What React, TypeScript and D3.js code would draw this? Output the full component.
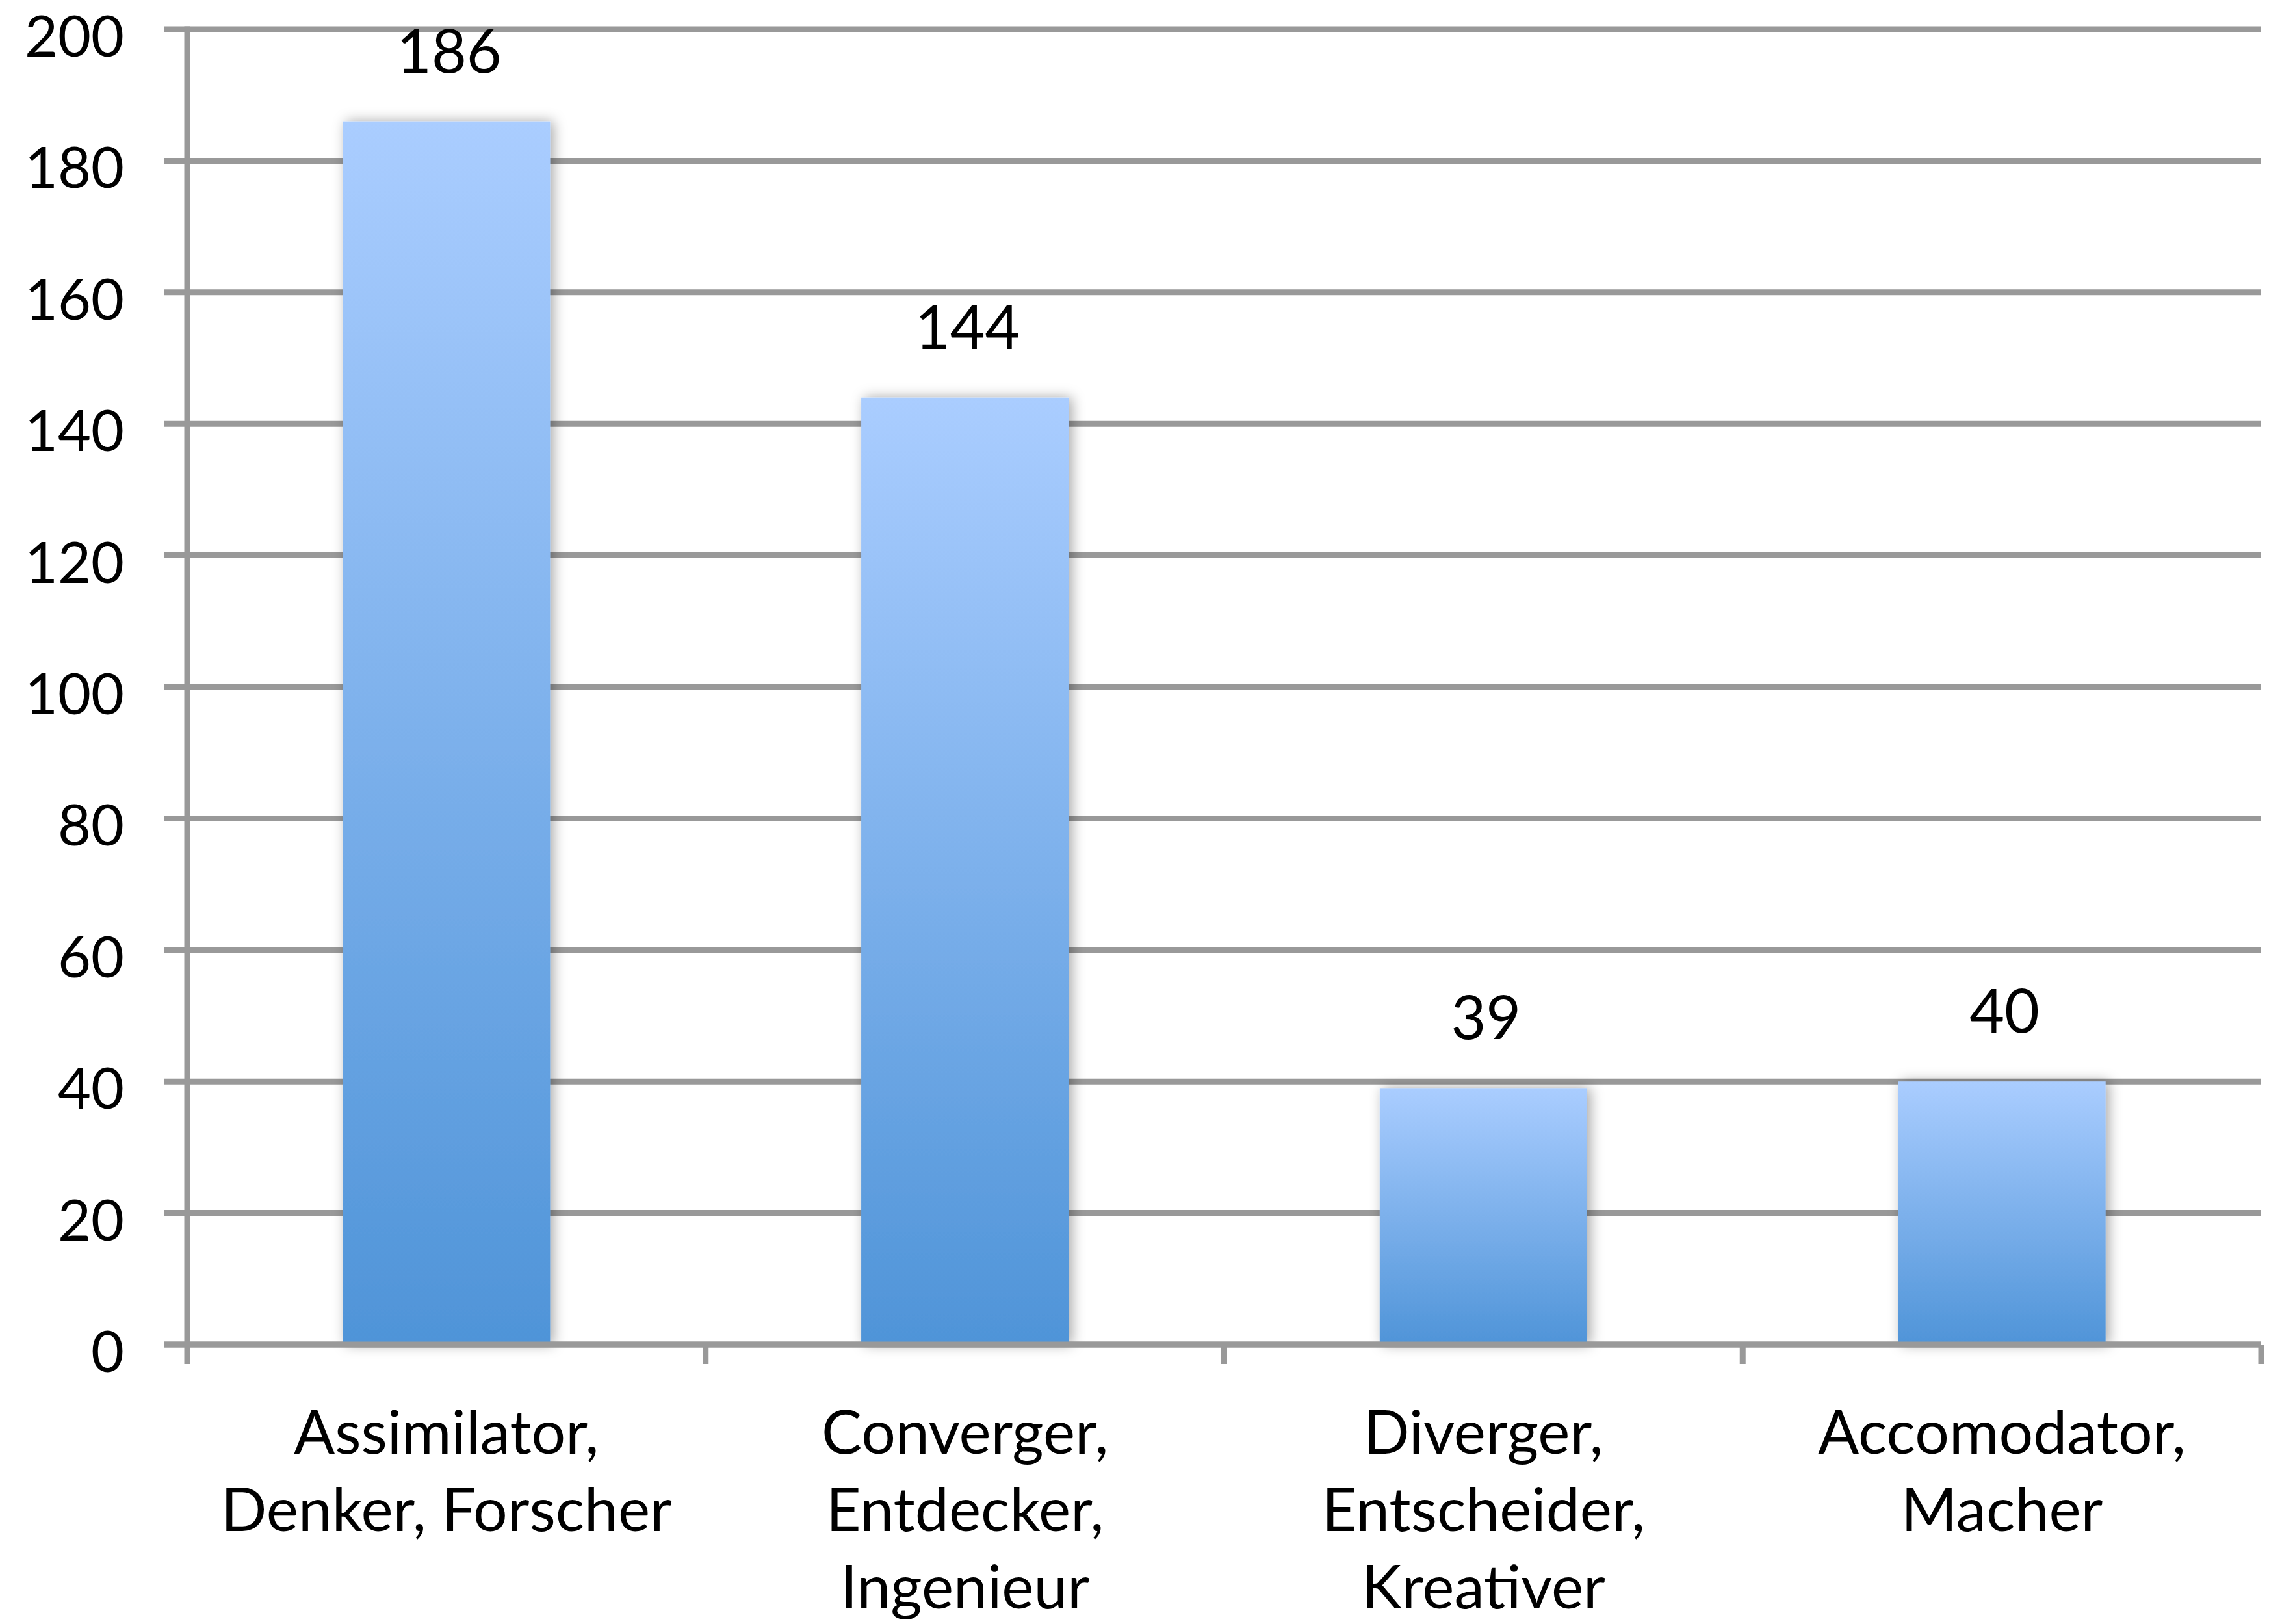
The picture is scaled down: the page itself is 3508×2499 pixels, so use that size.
import React, { useEffect } from "react";
import * as d3 from "d3";

const categories: string[][] = [
  ["Assimilator,", "Denker, Forscher"],
  ["Converger,", "Entdecker,", "Ingenieur"],
  ["Diverger,", "Entscheider,", "Kreativer"],
  ["Accomodator,", "Macher"],
];
const values: number[] = [186, 144, 39, 40];
const yTicks: number[] = [0, 20, 40, 60, 80, 100, 120, 140, 160, 180, 200];

const W = 3508;
const H = 2499;
const FONT = "Lato, 'Open Sans', sans-serif";
const FS = 93;
const FS_TICK = 88;

export default function App() {
  useEffect(() => {
    document.body.style.margin = "0";
  }, []);

  const left = 288;
  const right = 3479;
  const top = 45;
  const bottom = 2069;

  const x = d3
    .scaleBand<number>()
    .domain(values.map((_, i) => i))
    .range([left, right])
    .padding(0);
  const y = d3.scaleLinear().domain([0, 200]).range([bottom, top]);

  const bw = x.bandwidth() * 0.4;
  const grid = "#999999";
  const sw = 9;

  return (
    <svg
      width={W}
      height={H}
      viewBox={`0 0 ${W} ${H}`}
      style={{ display: "block", position: "absolute", left: 0, top: 0, background: "#fff" }}
    >
      <defs>
        <linearGradient id="barGrad" x1="0" y1="0" x2="0" y2="1">
          <stop offset="0%" stopColor="#AACDFF" />
          <stop offset="100%" stopColor="#4F94D8" />
        </linearGradient>
        <filter id="shadow" x="-30%" y="-10%" width="160%" height="120%">
          <feDropShadow dx="5" dy="0" stdDeviation="10" floodColor="#000" floodOpacity="0.35" />
        </filter>
      </defs>

      {yTicks.map((t) => (
        <line
          key={"g" + t}
          x1={left - 35}
          x2={right}
          y1={y(t)}
          y2={y(t)}
          stroke={grid}
          strokeWidth={sw}
        />
      ))}

      <line x1={left} x2={left} y1={top - sw / 2} y2={bottom + 30} stroke={grid} strokeWidth={sw} />

      {[...values.map((_, i) => x(i) as number), right].map((px, i) =>
        i === 0 ? null : (
          <line key={"xt" + i} x1={px} x2={px} y1={bottom} y2={bottom + 30} stroke={grid} strokeWidth={sw} />
        )
      )}

      {yTicks.map((t) => (
        <text
          key={"yl" + t}
          x={191}
          y={y(t) + 42}
          textAnchor="end"
          fontFamily={FONT}
          fontSize={FS_TICK}
          fill="#000"
        >
          {t}
        </text>
      ))}

      {values.map((v, i) => {
        const cx = (x(i) as number) + x.bandwidth() / 2;
        return (
          <rect
            key={"b" + i}
            x={cx - bw / 2}
            y={y(v)}
            width={bw}
            height={bottom - y(v)}
            fill="url(#barGrad)"
            filter="url(#shadow)"
          />
        );
      })}

      <line x1={left - 35} x2={right} y1={bottom} y2={bottom} stroke={grid} strokeWidth={sw} />

      {values.map((v, i) => {
        const cx = (x(i) as number) + x.bandwidth() / 2;
        return (
          <text
            key={"v" + i}
            x={cx + 4}
            y={y(v) - 75}
            textAnchor="middle"
            fontFamily={FONT}
            fontSize={FS}
            fill="#000"
          >
            {v}
          </text>
        );
      })}

      {categories.map((lines, i) => {
        const cx = (x(i) as number) + x.bandwidth() / 2;
        return (
          <text key={"c" + i} textAnchor="middle" fontFamily={FONT} fontSize={FS} fill="#000">
            {lines.map((ln, j) => (
              <tspan key={j} x={cx} y={2237 + j * 119}>
                {ln}
              </tspan>
            ))}
          </text>
        );
      })}
    </svg>
  );
}
